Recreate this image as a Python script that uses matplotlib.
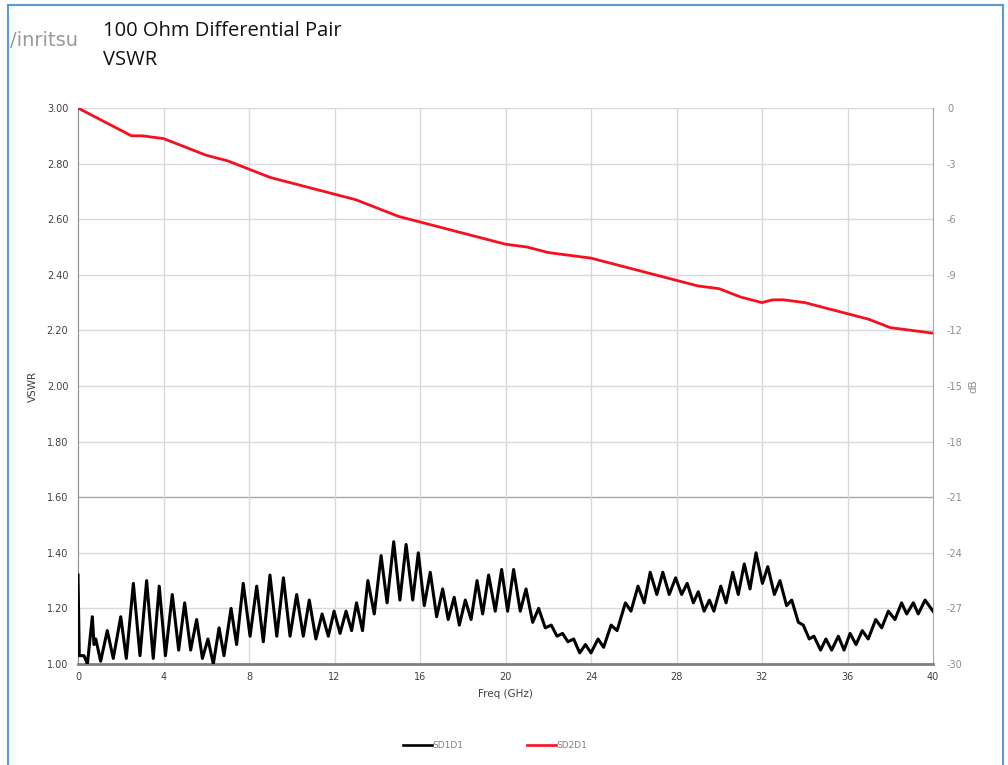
import matplotlib
matplotlib.use("Agg")
import matplotlib.pyplot as plt
from matplotlib.lines import Line2D

# ---------------- data ----------------
freq_sd2 = [0.0, 0.5, 1.0, 1.5, 2.0, 2.5, 3.0, 4.0, 5.0, 6.0, 7.0, 8.0, 9.0, 10.0,
            11.0, 12.0, 13.0, 14.0, 15.0, 16.0, 17.0, 18.0, 19.0, 20.0, 21.0, 22.0,
            23.0, 24.0, 25.0, 26.0, 27.0, 28.0, 29.0, 30.0, 31.0, 32.0, 32.5, 33.0,
            34.0, 35.0, 36.0, 37.0, 38.0, 39.0, 40.0]
vswr_sd2 = [3.00, 2.98, 2.96, 2.94, 2.92, 2.90, 2.90, 2.89, 2.86, 2.83, 2.81, 2.78, 2.75, 2.73,
            2.71, 2.69, 2.67, 2.64, 2.61, 2.59, 2.57, 2.55, 2.53, 2.51, 2.50, 2.48,
            2.47, 2.46, 2.44, 2.42, 2.40, 2.38, 2.36, 2.35, 2.32, 2.30, 2.31, 2.31,
            2.30, 2.28, 2.26, 2.24, 2.21, 2.20, 2.19]

freq_sd1 = [0.0, 0.06, 0.28, 0.44, 0.67, 0.75, 0.83, 1.06, 1.37, 1.65, 2.0, 2.26, 2.59, 2.90,
            3.21, 3.52, 3.80, 4.09, 4.41, 4.71, 4.99, 5.27, 5.55, 5.82, 6.08, 6.33, 6.60,
            6.83, 7.16, 7.42, 7.73, 8.05, 8.36, 8.67, 8.98, 9.30, 9.61, 9.92, 10.23, 10.54,
            10.82, 11.13, 11.42, 11.71, 11.98, 12.26, 12.54, 12.80, 13.03, 13.31, 13.56,
            13.86, 14.18, 14.46, 14.77, 15.06, 15.35, 15.66, 15.92, 16.20, 16.48, 16.78,
            17.06, 17.32, 17.60, 17.84, 18.12, 18.39, 18.67, 18.93, 19.21, 19.52, 19.82,
            20.10, 20.38, 20.69, 20.96, 21.27, 21.55, 21.86, 22.14, 22.41, 22.67, 22.92,
            23.19, 23.47, 23.74, 24.00, 24.33, 24.59, 24.94, 25.22, 25.61, 25.87, 26.20,
            26.49, 26.77, 27.08, 27.36, 27.66, 27.96, 28.24, 28.50, 28.79, 29.02, 29.29,
            29.54, 29.75, 30.07, 30.32, 30.63, 30.89, 31.17, 31.44, 31.72, 32.02, 32.27,
            32.58, 32.84, 33.15, 33.39, 33.70, 33.93, 34.21, 34.43, 34.74, 34.99, 35.26,
            35.57, 35.84, 36.12, 36.40, 36.69, 36.97, 37.32, 37.60, 37.91, 38.22, 38.53,
            38.77, 39.08, 39.31, 39.63, 40.0]
vswr_sd1 = [1.32, 1.03, 1.03, 1.00, 1.17, 1.07, 1.09, 1.01, 1.12, 1.02, 1.17, 1.02, 1.29, 1.03,
            1.30, 1.02, 1.28, 1.03, 1.25, 1.05, 1.22, 1.05, 1.16, 1.02, 1.09, 1.00, 1.13,
            1.03, 1.20, 1.07, 1.29, 1.10, 1.28, 1.08, 1.32, 1.10, 1.31, 1.10, 1.25, 1.10,
            1.23, 1.09, 1.18, 1.10, 1.19, 1.11, 1.19, 1.12, 1.22, 1.12, 1.30,
            1.18, 1.39, 1.22, 1.44, 1.23, 1.43, 1.23, 1.40, 1.21, 1.33, 1.17,
            1.27, 1.16, 1.24, 1.14, 1.23, 1.16, 1.30, 1.18, 1.32, 1.19, 1.34,
            1.19, 1.34, 1.19, 1.27, 1.15, 1.20, 1.13, 1.14, 1.10, 1.11, 1.08,
            1.09, 1.04, 1.07, 1.04, 1.09, 1.06, 1.14, 1.12, 1.22, 1.19, 1.28,
            1.22, 1.33, 1.25, 1.33, 1.25, 1.31, 1.25, 1.29, 1.22, 1.26, 1.19,
            1.23, 1.19, 1.28, 1.22, 1.33, 1.25, 1.36, 1.27, 1.40, 1.29, 1.35,
            1.25, 1.30, 1.21, 1.23, 1.15, 1.14, 1.09, 1.10, 1.05, 1.09, 1.05,
            1.10, 1.05, 1.11, 1.07, 1.12, 1.09, 1.16, 1.13, 1.19, 1.16, 1.22,
            1.18, 1.22, 1.18, 1.23, 1.19]

x_ticks = [0, 4, 8, 12, 16, 20, 24, 28, 32, 36, 40]
y_ticks = [1.00, 1.20, 1.40, 1.60, 1.80, 2.00, 2.20, 2.40, 2.60, 2.80, 3.00]
db_ticks = [0, -3, -6, -9, -12, -15, -18, -21, -24, -27, -30]

# ---------------- figure ----------------
W, H = 1008, 765
fig = plt.figure(figsize=(W / 100, H / 100), dpi=100)
fig.patch.set_facecolor("white")

ax = fig.add_axes([78 / W, 1 - 664 / H, (933 - 78) / W, (664 - 108) / H])
ax.set_xlim(0, 40)
ax.set_ylim(1.0, 3.0)

grid_c = "#d9d9d9"
for t in y_ticks[1:]:
    ax.axhline(t, color=("#a6a6a6" if abs(t - 1.6) < 1e-6 else grid_c), lw=1.0, zorder=1)
for t in x_ticks[1:-1]:
    ax.axvline(t, color=grid_c, lw=1.0, zorder=1)

ax.plot(freq_sd1, vswr_sd1, color="black", lw=2.2, solid_joinstyle="round", zorder=3)
ax.plot(freq_sd2, vswr_sd2, color="#f5101e", lw=2.0, solid_joinstyle="round", zorder=3)

ax.spines["top"].set_visible(False)
ax.spines["left"].set_color("#8c8c8c")
ax.spines["right"].set_color("#a6a6a6")
ax.spines["bottom"].set_color("#7f7f7f")
ax.spines["bottom"].set_linewidth(2.0)

ax.set_xticks(x_ticks)
ax.set_xticklabels([str(t) for t in x_ticks])
ax.set_yticks(y_ticks)
ax.set_yticklabels(["%.2f" % t for t in y_ticks])
ax.tick_params(axis="both", length=0, labelsize=7, colors="#404040", pad=7)
ax.tick_params(axis="x", pad=6)

ax.set_xlabel("Freq (GHz)", fontsize=7.5, color="#404040", labelpad=5)
ax.set_ylabel("VSWR", fontsize=7.5, color="#404040", labelpad=6)

ax2 = ax.twinx()
ax2.set_ylim(-30, 0)
ax2.set_yticks(db_ticks)
ax2.set_yticklabels([str(t) for t in db_ticks])
ax2.tick_params(axis="y", length=0, labelsize=7, colors="#8c8c8c", pad=10)
for s in ax2.spines.values():
    s.set_visible(False)
ax2.set_ylabel("dB", fontsize=7.5, color="#8c8c8c", labelpad=4)

# titles
fig.text(10 / W, 1 - 40 / H, "/inritsu", fontsize=14, color="#999999",
         va="center", ha="left", family="DejaVu Sans")
fig.text(103 / W, 1 - 31 / H, "100 Ohm Differential Pair", fontsize=14.5,
         color="#111111", va="center", ha="left", family="Open Sans")
fig.text(103 / W, 1 - 60 / H, "VSWR", fontsize=14.5,
         color="#111111", va="center", ha="left", family="Open Sans")

# legend
leg_handles = [Line2D([], [], color="black", lw=1.9), Line2D([], [], color="#f5101e", lw=1.9)]
fig.legend(leg_handles, ["SD1D1", "SD2D1"], loc="center", bbox_to_anchor=(495 / W, 1 - 746 / H),
           ncol=2, frameon=False, fontsize=6.5, handlelength=3.2, handletextpad=0.1,
           columnspacing=7, labelcolor="#7f7f7f")

# blue frame
blue = "#5b9bd5"
fig.add_artist(Line2D([8 / W, 8 / W], [0, 1 - 5 / H], color=blue, lw=1.5))
fig.add_artist(Line2D([8 / W, 1003 / W], [1 - 5 / H, 1 - 5 / H], color=blue, lw=1.5))
fig.add_artist(Line2D([1003 / W, 1003 / W], [0, 1 - 5 / H], color=blue, lw=1.5))

fig.savefig("out.png", dpi=100, facecolor="white")
